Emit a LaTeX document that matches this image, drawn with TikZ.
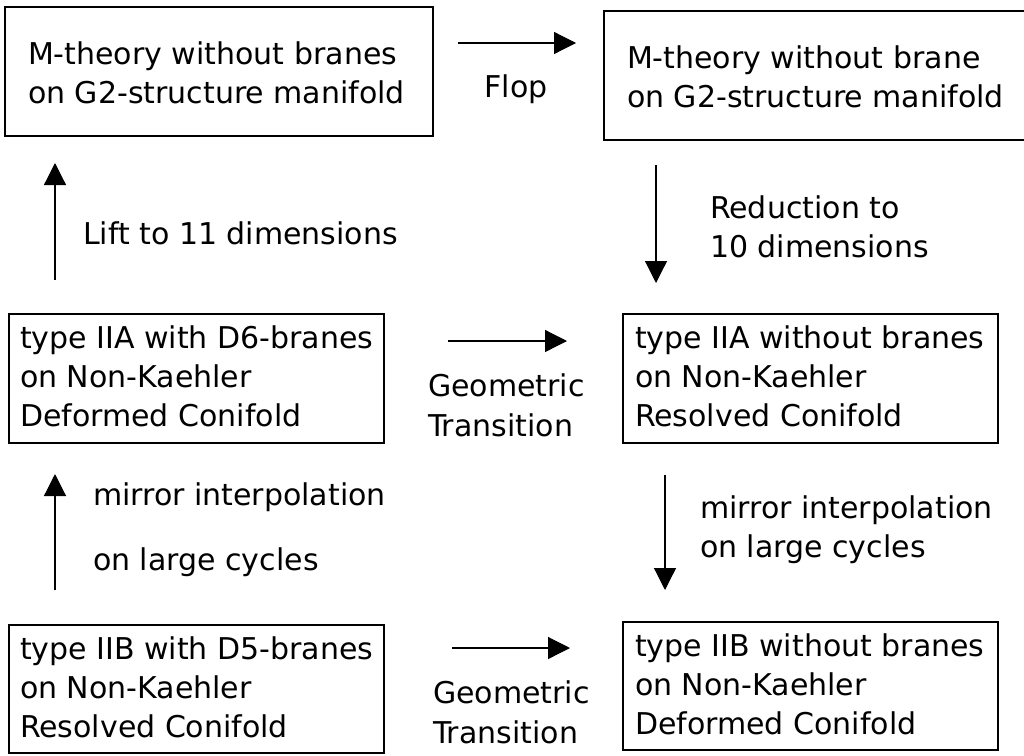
\documentclass[tikz,border=0pt]{standalone}
\usepackage{fontspec}
\setmainfont{DejaVu Sans}
\usetikzlibrary{arrows.meta}
\begin{document}
\begin{tikzpicture}[x=1pt,y=-1pt,
  box/.style={draw, line width=1.3pt, inner sep=0pt, outer sep=0pt, anchor=north west},
  txt/.style={inner sep=0pt, outer sep=0pt, align=left, anchor=base west, font=\fontsize{30}{39}\selectfont},
  arr/.style={line width=1.2pt, -{Triangle[length=22pt,width=22pt]}}]
\clip (0,0) rectangle (1024,755);
\fill[white] (0,0) rectangle (1024,755);
% boxes
\node[box, minimum width=428, minimum height=129] (b1) at (5,7) {};
\node[box, minimum width=426, minimum height=129] (b2) at (604,11) {};
\node[box, minimum width=375, minimum height=129] (b3) at (9,314) {};
\node[box, minimum width=375, minimum height=129] (b4) at (623,314) {};
\node[box, minimum width=375, minimum height=128] (b5) at (9,625) {};
\node[box, minimum width=375, minimum height=128] (b6) at (623,622) {};
% box texts (anchor = baseline of last line)
\node[txt] (t1) at (28,103) {M-theory without branes\\on G2-structure manifold};
\node[txt] (t2) at (627,107) {M-theory without brane\\on G2-structure manifold};
\node[txt] (t3) at (20,426) {type IIA with D6-branes\\on Non-Kaehler\\Deformed Conifold};
\node[txt] (t4) at (635,426) {type IIA without branes\\on Non-Kaehler\\Resolved Conifold};
\node[txt] (t5) at (20,737) {type IIB with D5-branes\\on Non-Kaehler\\Resolved Conifold};
\node[txt] (t6) at (635,734) {type IIB without branes\\on Non-Kaehler\\Deformed Conifold};
% arrow end points
\coordinate (flopS) at (458,43);  \coordinate (flopE) at (576,43);
\coordinate (gtaS) at (448,341);  \coordinate (gtaE) at (567,341);
\coordinate (gtbS) at (452,648);  \coordinate (gtbE) at (570,648);
\coordinate (liftS) at (55,280);  \coordinate (liftE) at (55,163);
\coordinate (redS) at (656,165);  \coordinate (redE) at (656,283);
\coordinate (mlS) at (55,590);    \coordinate (mlE) at (55,474);
\coordinate (mrS) at (665,475);   \coordinate (mrE) at (665,590);
\draw[arr] (flopS) -- (flopE);
\draw[arr] (gtaS) -- (gtaE);
\draw[arr] (gtbS) -- (gtbE);
\draw[arr] (liftS) -- (liftE);
\draw[arr] (redS) -- (redE);
\draw[arr] (mlS) -- (mlE);
\draw[arr] (mrS) -- (mrE);
% labels
\node[txt, anchor=base] (lflop) at (516,97) {Flop};
\node[txt, font=\fontsize{30}{40}\selectfont] (lgta) at (428,436) {Geometric\\Transition};
\node[txt, font=\fontsize{30}{40}\selectfont] (lgtb) at (433,743) {Geometric\\Transition};
\node[txt] (llift) at (83,244) {Lift to 11 dimensions};
\node[txt] (lred) at (710,257) {Reduction to\\10 dimensions};
\node[txt, font=\fontsize{30}{65}\selectfont] (lml) at (93,570) {mirror interpolation\\on large cycles};
\node[txt] (lmr) at (700,557) {mirror interpolation\\on large cycles};
\end{tikzpicture}
\end{document}
